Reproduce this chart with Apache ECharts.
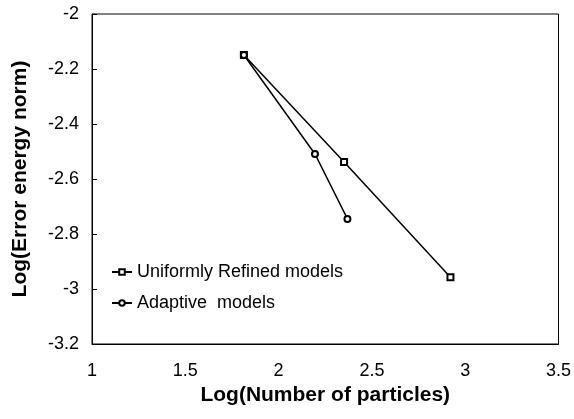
<!DOCTYPE html>
<html>
<head>
<meta charset="utf-8">
<script src="https://cdn.jsdelivr.net/npm/echarts@6/dist/echarts.min.js"></script>
<style>
  html, body { margin: 0; padding: 0; background: #fff; }
  #chart { width: 574px; height: 419px; }
</style>
</head>
<body>
<div id="chart"></div>
<script>
// values (log scales)
const uniformX = [1.814, 2.351, 2.921];
const uniformY = [-2.149, -2.538, -2.957];
const adaptiveX = [1.814, 2.195, 2.369];
const adaptiveY = [-2.149, -2.509, -2.745];
const seriesNames = ['Uniformly Refined models', 'Adaptive  models'];

function pairs(xs, ys) {
  return xs.map(function (x, i) { return [x, ys[i]]; });
}

const chart = echarts.init(document.getElementById('chart'), null, { renderer: 'canvas' });

const font = 'Liberation Sans, Arial, sans-serif';

const option = {
  backgroundColor: '#fff',
  animation: false,
  textStyle: { fontFamily: font },
  grid: {
    left: 92, right: 14, top: 14, bottom: 75,
    show: true, borderColor: '#000', borderWidth: 1
  },
  legend: {
    orient: 'vertical',
    left: 106, top: 258,
    itemWidth: 20, itemHeight: 7, itemGap: 13,
    textStyle: { fontSize: 18, color: '#000', fontFamily: font },
    data: seriesNames
  },
  xAxis: {
    type: 'value',
    min: 1, max: 3.5, interval: 0.5,
    name: 'Log(Number of particles)',
    nameLocation: 'middle', nameGap: 37,
    nameTextStyle: { fontSize: 21, fontWeight: 'bold', color: '#000', fontFamily: font },
    axisLine: { lineStyle: { color: '#000', width: 1 } },
    axisTick: { show: false },
    axisLabel: { fontSize: 18, color: '#000', margin: 18, fontFamily: font },
    splitLine: { show: false }
  },
  yAxis: {
    type: 'value',
    min: -3.2, max: -2, interval: 0.2,
    name: 'Log(Error energy norm)',
    nameLocation: 'middle', nameGap: 61,
    nameTextStyle: { fontSize: 21, fontWeight: 'bold', color: '#000', fontFamily: font },
    axisLine: { show: true, lineStyle: { color: '#000', width: 1 } },
    axisTick: { show: true, inside: true, length: 5, lineStyle: { color: '#000' } },
    axisLabel: {
      fontSize: 18, color: '#000', margin: 13, fontFamily: font,
      formatter: function (v) { return String(Math.round(v * 10) / 10); }
    },
    splitLine: { show: false }
  },
  series: [
    {
      name: seriesNames[0],
      type: 'line',
      data: pairs(uniformX, uniformY),
      symbol: 'emptyRect',
      symbolSize: 6,
      lineStyle: { color: '#000', width: 1.5 },
      itemStyle: { color: '#000', borderColor: '#000', borderWidth: 1 }
    },
    {
      name: seriesNames[1],
      type: 'line',
      data: pairs(adaptiveX, adaptiveY),
      symbol: 'emptyCircle',
      symbolSize: 6,
      lineStyle: { color: '#000', width: 1.5 },
      itemStyle: { color: '#000', borderColor: '#000', borderWidth: 1 }
    }
  ]
};

chart.setOption(option);
</script>
</body>
</html>
